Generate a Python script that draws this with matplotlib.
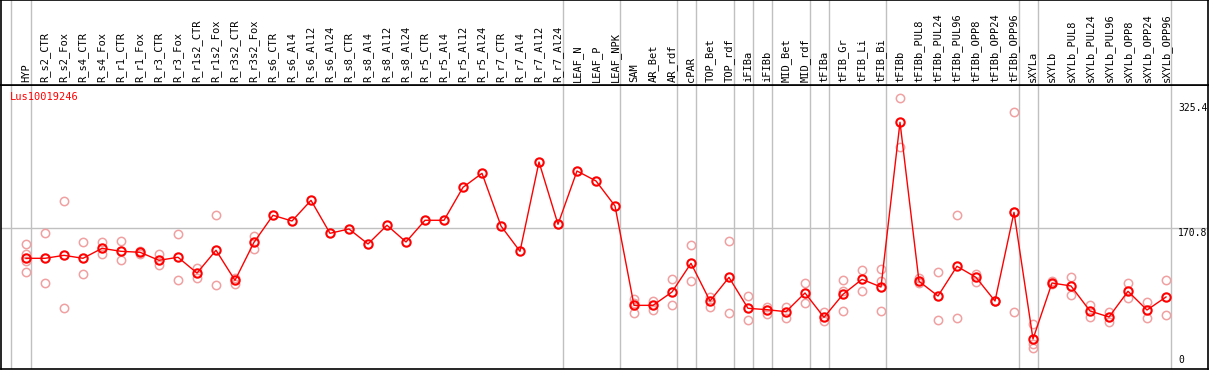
import numpy as np
import matplotlib
matplotlib.use("Agg")
import matplotlib.pyplot as plt
from matplotlib.transforms import blended_transform_factory

samples = ["HYP", "R_s2_CTR", "R_s2_Fox", "R_s4_CTR", "R_s4_Fox", "R_r1_CTR", "R_r1_Fox",
           "R_r3_CTR", "R_r3_Fox", "R_r1s2_CTR", "R_r1s2_Fox", "R_r3s2_CTR", "R_r3s2_Fox",
           "R_s6_CTR", "R_s6_Al4", "R_s6_Al12", "R_s6_Al24", "R_s8_CTR", "R_s8_Al4",
           "R_s8_Al12", "R_s8_Al24", "R_r5_CTR", "R_r5_Al4", "R_r5_Al12", "R_r5_Al24",
           "R_r7_CTR", "R_r7_Al4", "R_r7_Al12", "R_r7_Al24", "LEAF_N", "LEAF_P", "LEAF_NPK",
           "SAM", "AR_Bet", "AR_rdf", "cPAR", "TOP_Bet", "TOP_rdf", "iFIBa", "iFIBb",
           "MID_Bet", "MID_rdf", "tFIBa", "tFIB_Gr", "tFIB_Li", "tFIB_Bi", "tFIBb",
           "tFIBb_PUL8", "tFIBb_PUL24", "tFIBb_PUL96", "tFIBb_OPP8", "tFIBb_OPP24",
           "tFIBb_OPP96", "sXYLa", "sXYLb", "sXYLb_PUL8", "sXYLb_PUL24", "sXYLb_PUL96",
           "sXYLb_OPP8", "sXYLb_OPP24", "sXYLb_OPP96"]

means = [132.7, 132.7, 136.4, 132.7, 145.1, 141.4, 140.2, 130.2, 134.0, 114.4, 142.7, 105.3,
         152.6, 186.2, 179.1, 204.8, 163.8, 169.2, 150.5, 173.8, 153.0, 180.0, 180.0, 221.0,
         238.4, 172.9, 141.4, 252.5, 175.0, 241.3, 228.9, 197.8,
         74.2, 74.2, 90.8, 126.5, 79.6, 109.0, 70.5, 68.8, 66.3, 89.6, 59.3, 87.9, 106.6,
         97.0, 301.9, 104.1, 85.8, 122.8, 109.0, 79.6, 189.9, 32.3, 102.0, 98.3, 67.2, 59.7,
         91.7, 68.4, 84.6]

reps = [[150.5, 137.7, 129.4, 115.3], [163.8, 102.0], [203.6, 70.5], [152.6, 112.8],
        [152.6, 137.7], [153.9, 130.2], [142.0, 138.0], [137.7, 124.4], [162.9, 105.3],
        [121.0, 107.8], [186.2, 99.1], [108.6, 101.1], [160.4, 144.7],
        [], [], [], [], [], [], [], [], [], [], [], [], [], [], [], [], [], [], [],
        [81.7, 77.0, 65.1], [80.0, 68.8], [106.6, 74.2], [148.9, 104.1], [85.0, 72.5],
        [153.9, 64.3], [85.4, 55.6], [72.5, 63.0], [72.1, 58.8], [101.6, 76.7],
        [65.5, 55.1], [105.3, 91.7, 67.2], [117.8, 91.7], [119.0, 104.1, 67.2],
        [331.7, 271.5], [107.8, 101.6], [115.3, 56.0], [187.0, 58.1], [113.6, 103.2],
        [80.0, 79.0], [314.3, 190.0, 65.5], [50.6, 25.7, 20.8], [104.5, 101.0],
        [109.5, 87.1], [74.6, 60.1], [66.3, 53.1], [102.0, 83.0], [78.4, 58.8],
        [105.3, 62.2]]

group_ends = [0, 28, 31, 34, 35, 37, 38, 39, 41, 42, 45, 52, 53, 60]
ytick_vals = [325.4, 170.8, 0]
gene = "Lus10019246"

W, H = 1209, 370
fig = plt.figure(figsize=(W / 100, H / 100), dpi=100)
ax = fig.add_axes([1 / W, 1 / H, 1207 / W, 284 / H])
lab = fig.add_axes([1 / W, 285 / H, 1207 / W, 85 / H])

xmin = -25 / 19
xmax = xmin + 1207 / 19
grid_c = "#c0c0c0"
mono = "DejaVu Sans Mono"

for a in (ax, lab):
    a.set_xlim(xmin, xmax)
    a.set_xticks([])
    a.set_yticks([])
    for s in a.spines.values():
        s.set_color("black")
        s.set_linewidth(1.2)
    a.axvline(-0.79, color=grid_c, lw=1, zorder=0)
    for g in group_ends:
        a.axvline(g + 5 / 19, color=grid_c, lw=1, zorder=0)

ax.set_ylim((365 - 369) / 0.804, (365 - 85) / 0.804)
lab.set_ylim(0, 1)
ax.axhline(170.8, color=grid_c, lw=1, zorder=0)

x = np.arange(len(samples))
for i, r in enumerate(reps):
    if r:
        ax.plot([i] * len(r), r, "o", ms=6, mfc="none", mec="#f0a0a0", mew=1.1, zorder=2)
ax.plot(x, means, "-", color="red", lw=1, zorder=3)
ax.plot(x, means, "o", ms=6, mfc="none", mec="red", mew=1.5, zorder=4)

tr = blended_transform_factory(lab.transData, lab.transAxes)
for i, s in enumerate(samples):
    lab.text(i, 3 / 85, s, rotation=90, ha="center", va="bottom", fontsize=7.5,
             family=mono, transform=tr)

for v in ytick_vals:
    ax.text(60.63, v, f"{v:g}" if v != 0 else "0", ha="left",
            va="top" if v != 0 else "bottom", fontsize=7, family=mono)

ax.text(9 / 1207, 1 - 12 / 284, gene, color="red", fontsize=7.5, family=mono,
        ha="left", va="center", transform=ax.transAxes)

fig.savefig("out.png", dpi=100)
